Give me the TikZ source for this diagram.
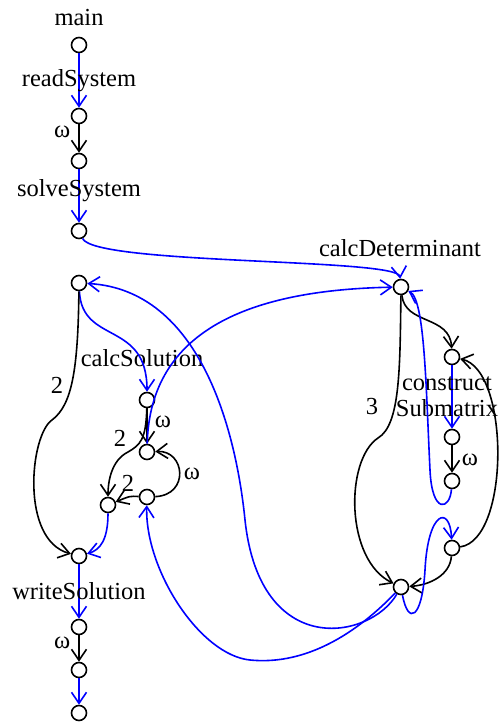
\documentclass[tikz,border=0pt]{standalone}
\usepackage{fontspec}
\setmainfont{Liberation Serif}
\usetikzlibrary{arrows.meta}

\tikzstyle{point} = [circle, draw=black, line width=1.6pt, minimum size=15pt, inner sep=0pt]
\tikzstyle{flow} = [line width=1.6pt, -{Straight Barb[length=11pt,width=15pt]}]
\tikzstyle{call} = [flow, draw=blue]
\tikzstyle{intra} = [flow, draw=black]
\tikzstyle{lbl} = [font=\fontsize{24.5}{26}\selectfont, inner sep=0pt]

\begin{document}
\begin{tikzpicture}[x=1pt, y=-1pt]
\useasboundingbox (0,0) rectangle (500,722);

% main / solveSystem chain
\node (n1) [point] at (79,45) {};
\node (n2) [point] at (79,116) {};
\node (n3) [point] at (79,161) {};
\node (n4) [point] at (79,231) {};
\node (n5) [point] at (79,283) {};

% calcSolution
\node (n7) [point] at (147,400) {};
\node (n8) [point] at (147,452) {};
\node (n9) [point] at (147,497) {};
\node (n10) [point] at (108,505) {};

% writeSolution
\node (n11) [point] at (79,556) {};
\node (n12) [point] at (79,627) {};
\node (n13) [point] at (79,670) {};
\node (n14) [point] at (79,713) {};

% calcDeterminant and constructSubmatrix
\node (n6) [point] at (401,287) {};
\node (n15) [point] at (452,357) {};
\node (n16) [point] at (452,437) {};
\node (n17) [point] at (452,481) {};
\node (n18) [point] at (452,548) {};
\node (n19) [point] at (401,587) {};

\node (lmain) [lbl] at (79,18) {main};
\node (ldet) [lbl] at (400,248) {calcDeterminant};
\node (lsol) [lbl] at (142,358) {calcSolution};

\draw[call] (n1) -- node[lbl] {readSystem} (n2);
\draw[intra] (n2) -- node[lbl, pos=0.25, left=8pt] {ω} (n3);
\draw[call] (n3) -- node[lbl, pos=0.4] {solveSystem} (n4);
\draw[call] (n4) .. controls (95,265) and (398,258) .. (n6);

\draw[call] (n5) .. controls (82,345) and (147,320) .. (n7);
\draw[intra] (n5) .. controls (78,370) and (72,405) .. (52,420)
  .. controls (30,435) and (20,540) .. (n11);
\node (l2a) [lbl] at (57,385) {2};
\draw[intra] (n7) -- (n8);
\node (lw2) [lbl] at (163,422) {ω};
\draw[intra] (n7) .. controls (146,440) and (140,445) .. (128,452)
  .. controls (112,460) and (108,480) .. (n10);
\node (l2b) [lbl] at (120,438) {2};
\draw[intra] (n9) .. controls (190,495) and (185,450) .. (n8);
\node (lw3) [lbl] at (192,474) {ω};
\draw[intra] (n9) .. controls (130,496) .. (n10);
\node (l2c) [lbl] at (128,483) {2};
\draw[call] (n10) .. controls (108,540) and (100,550) .. (n11);
\draw[call] (n8) .. controls (150,330) and (250,290) .. (n6);

\draw[call] (n11) -- node[lbl] {writeSolution} (n12);
\draw[intra] (n12) -- node[lbl, pos=0.3, left=8pt] {ω} (n13);
\draw[call] (n13) -- (n14);

\draw[intra] (n6) .. controls (405,325) and (450,315) .. (n15);
\draw[intra] (n6) .. controls (400,370) and (400,425) .. (378,438)
  .. controls (345,460) and (345,560) .. (n19);
\node (l3) [lbl] at (372,407) {3};
\draw[call] (n15) -- node[lbl, align=center, xshift=-5pt] {construct\\Submatrix} (n16);
\draw[intra] (n16) -- (n17);
\node (lw4) [lbl] at (470,460) {ω};
\draw[call] (n17) .. controls (450,510) and (432,515) .. (430,470)
  .. controls (426,390) and (425,300) .. (n6);
\draw[intra] (n18) .. controls (510,540) and (510,370) .. (n15);
\draw[intra] (n18) .. controls (450,575) and (430,585) .. (n19);
\draw[call] (n19) .. controls (408,625) and (422,620) .. (425,570)
  .. controls (428,510) and (450,505) .. (n18);
\draw[call] (n19) .. controls (370,640) and (260,660) .. (245,520)
  .. controls (236,430) and (200,290) .. (n5);
\draw[call] (n19) .. controls (350,640) and (300,665) .. (250,660)
  .. controls (200,655) and (145,570) .. (n9);
\end{tikzpicture}
\end{document}
